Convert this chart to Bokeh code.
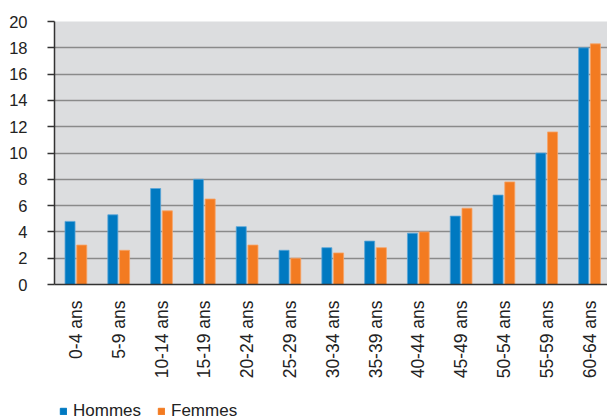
from bokeh.plotting import figure
from bokeh.models import ColumnDataSource, FixedTicker, Legend, LegendItem, Range1d
from bokeh.layouts import column
from bokeh.embed import file_html
from bokeh.resources import INLINE
from bokeh.transform import dodge
import math

categories = ["0-4 ans", "5-9 ans", "10-14 ans", "15-19 ans", "20-24 ans", "25-29 ans",
              "30-34 ans", "35-39 ans", "40-44 ans", "45-49 ans", "50-54 ans", "55-59 ans",
              "60-64 ans"]
hommes = [4.8, 5.3, 7.3, 8.0, 4.4, 2.6, 2.8, 3.3, 3.9, 5.2, 6.8, 10.0, 18.0]
femmes = [3.0, 2.6, 5.6, 6.5, 3.0, 2.0, 2.4, 2.8, 4.0, 5.8, 7.8, 11.6, 18.3]
series_names = ["Hommes", "Femmes"]
y_ticks = list(range(0, 21, 2))

BLUE = "#0079C1"
ORANGE = "#F37B21"
FONT = "Liberation Sans"

pos = [i + 0.5 for i in range(len(categories))]
src = ColumnDataSource(dict(x=pos, h=hommes, f=femmes))

# thin grey rule across the top
pt = figure(width=607, height=2, x_range=Range1d(0, 1), y_range=Range1d(0, 1),
            output_backend="svg", toolbar_location=None,
            x_axis_location=None, y_axis_location=None,
            min_border_left=0, min_border_right=0, min_border_top=0,
            min_border_bottom=0)
pt.grid.grid_line_color = None
pt.outline_line_color = None
pt.background_fill_color = "#a9a9a9"
pt.border_fill_color = "#a9a9a9"

p = figure(width=607, height=400, x_range=(0, 12.92), y_range=(0, 20),
           output_backend="svg", toolbar_location=None,
           min_border_left=54, min_border_right=0, min_border_top=19,
           min_border_bottom=118)
p.background_fill_color = "#DCDDDF"
p.border_fill_color = "white"
p.outline_line_color = None

p.vbar(x=dodge("x", -0.137, range=p.x_range), top="h", width=0.234, bottom=0,
       source=src, fill_color=BLUE, line_color="#5aa6d8", line_width=0.8)
p.vbar(x=dodge("x", 0.137, range=p.x_range), top="f", width=0.234, bottom=0,
       source=src, fill_color=ORANGE, line_color="#f7a366", line_width=0.8)

# y axis
p.yaxis.ticker = FixedTicker(ticks=y_ticks)
p.yaxis.axis_line_color = "#333333"
p.yaxis.axis_line_width = 1.5
p.yaxis.major_tick_line_color = "#333333"
p.yaxis.major_tick_line_width = 1.5
p.yaxis.major_tick_out = 7
p.yaxis.major_tick_in = 0
p.yaxis.minor_tick_line_color = None
p.yaxis.major_label_text_font = FONT
p.yaxis.major_label_text_font_size = "16.5px"
p.yaxis.major_label_text_color = "#222222"
p.yaxis.major_label_standoff = 20

# x axis
p.xaxis.ticker = FixedTicker(ticks=pos)
p.xaxis.major_label_overrides = {x: c for x, c in zip(pos, categories)}
p.xaxis.major_label_orientation = math.pi / 2
p.xaxis.axis_line_color = "#333333"
p.xaxis.axis_line_width = 1.5
p.xaxis.major_tick_line_color = None
p.xaxis.major_tick_out = 0
p.xaxis.major_tick_in = 0
p.xaxis.minor_tick_line_color = None
p.xaxis.major_label_text_font = FONT
p.xaxis.major_label_text_font_size = "17.5px"
p.xaxis.major_label_text_color = "#222222"
p.xaxis.major_label_standoff = 16

p.xgrid.grid_line_color = None
p.ygrid.ticker = FixedTicker(ticks=y_ticks)
p.ygrid.grid_line_color = "#8a8a8a"
p.ygrid.grid_line_width = 1.5

# legend strip below the chart (its renderers are hidden; only the legend shows)
pl = figure(width=607, height=18, x_range=Range1d(0, 13), y_range=Range1d(0, 20),
            output_backend="svg", toolbar_location=None,
            x_axis_location=None, y_axis_location=None,
            min_border_left=54, min_border_right=0, min_border_top=0,
            min_border_bottom=0)
pl.grid.grid_line_color = None
pl.outline_line_color = None
pl.background_fill_color = "white"
lh = pl.vbar(x="x", top="h", width=0.2, source=src, fill_color=BLUE, line_color=BLUE,
             visible=False)
lf = pl.vbar(x="x", top="f", width=0.2, source=src, fill_color=ORANGE, line_color=ORANGE,
             visible=False)

legend = Legend(items=[LegendItem(label=series_names[0], renderers=[lh]),
                       LegendItem(label=series_names[1], renderers=[lf])],
                location="center_left", orientation="horizontal",
                glyph_width=8, glyph_height=8, label_standoff=6, spacing=16,
                padding=0, margin=5, border_line_color=None,
                background_fill_alpha=0, inactive_fill_alpha=0,
                label_text_font=FONT,
                label_text_font_size="17px", label_text_color="#222222",
                label_height=16)
pl.add_layout(legend, "center")

layout = column(pt, p, pl, spacing=0)

open("out.html", "w").write(file_html(layout, INLINE))
